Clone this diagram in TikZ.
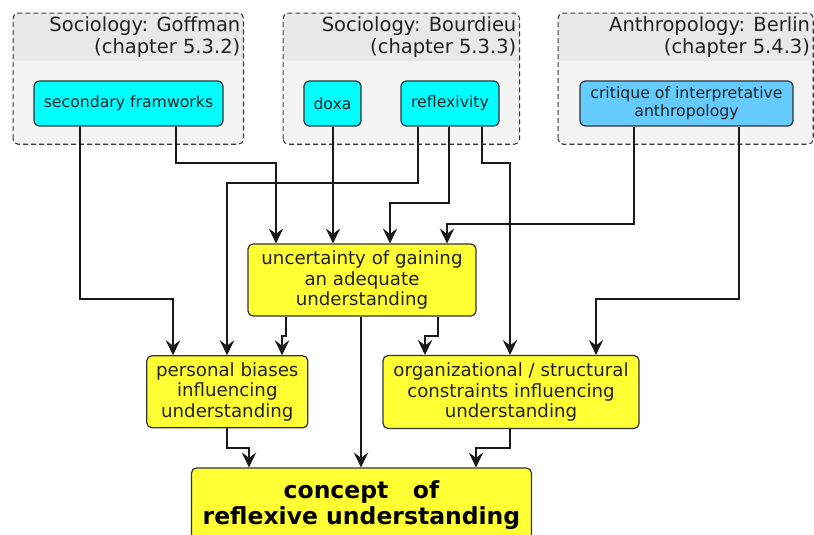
\documentclass[tikz,border=0pt]{standalone}
\usepackage{fontspec}
\setmainfont{DejaVu Sans}
\usetikzlibrary{arrows.meta}

\definecolor{pkgbody}{HTML}{F4F4F4}
\definecolor{pkgband}{HTML}{E9E9E9}
\definecolor{pkgline}{HTML}{3A3A3A}
\definecolor{boxline}{HTML}{333333}
\definecolor{aqua}{HTML}{00FFFF}
\definecolor{skyblue}{HTML}{66CCFF}
\definecolor{lemon}{HTML}{FFFF33}
\definecolor{inkgrey}{HTML}{222222}

\tikzset{
  pkg/.style={fill=pkgbody, inner sep=0pt, rounded corners=5pt},
  pkgborder/.style={draw=pkgline, line width=1.1pt, dash pattern=on 5pt off 3pt, rounded corners=5pt},
  pkgtitle/.style={anchor=north east, inner xsep=3pt, inner ysep=3.4pt, align=right,
    text=inkgrey, font=\fontsize{19.5}{22.3}\selectfont},
  idea/.style={draw=boxline, line width=1.2pt, rounded corners=5pt, inner sep=0pt,
    minimum height=45pt, align=center, text=inkgrey, font=\fontsize{15.7}{17.7}\selectfont},
  aquabox/.style={idea, fill=aqua},
  bluebox/.style={idea, fill=skyblue},
  topic/.style={draw=boxline, line width=1.2pt, rounded corners=5pt, inner sep=0pt,
    fill=lemon, align=center, text=inkgrey, font=\fontsize{18.2}{20.4}\selectfont},
  arr/.style={draw=black!90, line width=1.1pt,
    -{Stealth[length=15pt, width=14.5pt, inset=5.5pt]}},
}

\begin{document}
\begin{tikzpicture}[x=1pt, y=-1pt]
\useasboundingbox (0,0) rectangle (814,535);
\fill[white] (0,0) rectangle (814,535);
\clip (0,0) rectangle (814,535);

% ---- package frames ----
\node[pkg, minimum width=230pt, minimum height=130.7pt] (pkgG) at (128.3,78.65) {};
\node[pkg, minimum width=236pt, minimum height=130.7pt] (pkgB) at (401.3,78.65) {};
\node[pkg, minimum width=254.7pt, minimum height=130.7pt] (pkgA) at (685.65,78.65) {};

\foreach \p in {pkgG,pkgB,pkgA}{
  \begin{scope}
    \clip[rounded corners=5pt] (\p.south west) rectangle (\p.north east);
    \fill[pkgband] (\p.north west) rectangle (\p.east |- 0,61);
  \end{scope}
  \draw[pkgborder] (\p.south west) rectangle (\p.north east);
}

\node[pkgtitle] (tG) at (pkgG.north east) {Sociology: Goffman\\(chapter 5.3.2)};
\node[pkgtitle] (tB) at (pkgB.north east) {Sociology: Bourdieu\\(chapter 5.3.3)};
\node[pkgtitle] (tA) at (pkgA.north east) {Anthropology: Berlin\\(chapter 5.4.3)};

% ---- source concepts ----
\node[aquabox, minimum width=189pt] (sf)   at (128.5,103.5) {secondary framworks};
\node[aquabox, minimum width=57pt]  (doxa) at (332.5,103.5) {doxa};
\node[aquabox, minimum width=98pt]  (refl) at (450,103.5)   {reflexivity};
\node[bluebox, minimum width=213pt] (crit) at (686.5,103.5) {critique of interpretative\\anthropology};

% ---- derived topics ----
\node[topic, minimum width=228pt, minimum height=72pt] (unc) at (362,280)
  {uncertainty of gaining\\an adequate\\understanding};
\node[topic, minimum width=161pt, minimum height=72pt] (pb) at (227.3,391.8)
  {personal biases\\influencing\\understanding};
\node[topic, minimum width=256pt, minimum height=73pt] (org) at (511,392)
  {organizational / structural\\constraints influencing\\understanding};
\node[topic, minimum width=340pt, minimum height=75pt, text=black,
      font=\fontsize{23.5}{25.8}\selectfont\bfseries] (concept) at (361.5,505.5)
  {concept\ \ \ of\\reflexive understanding};

% ---- connectors ----
\draw[arr] (sf.south -| 80,0)    |- (173,299) -- (pb.north -| 173,0);
\draw[arr] (sf.south -| 176,0)   |- (276,163) -- (unc.north -| 276,0);
\draw[arr] (doxa.south -| 333,0) -- (unc.north -| 333,0);
\draw[arr] (refl.south -| 418,0) |- (227,183) -- (pb.north -| 227,0);
\draw[arr] (refl.south -| 449,0) |- (390,203) -- (unc.north -| 390,0);
\draw[arr] (refl.south -| 482,0) |- (510,163) -- (org.north -| 510,0);
\draw[arr] (crit.south -| 634,0) |- (447,224) -- (unc.north -| 447,0);
\draw[arr] (crit.south -| 739,0) |- (596,299) -- (org.north -| 596,0);
\draw[arr] (unc.south -| 286,0)  |- (282,336) -- (pb.north -| 282,0);
\draw[arr] (unc.south -| 438,0)  |- (425,336) -- (org.north -| 425,0);
\draw[arr] (unc.south -| 361,0)  -- (concept.north -| 361,0);
\draw[arr] (pb.south -| 227,0)   |- (249,448) -- (concept.north -| 249,0);
\draw[arr] (org.south -| 510,0)  |- (476,448) -- (concept.north -| 476,0);
\end{tikzpicture}
\end{document}
